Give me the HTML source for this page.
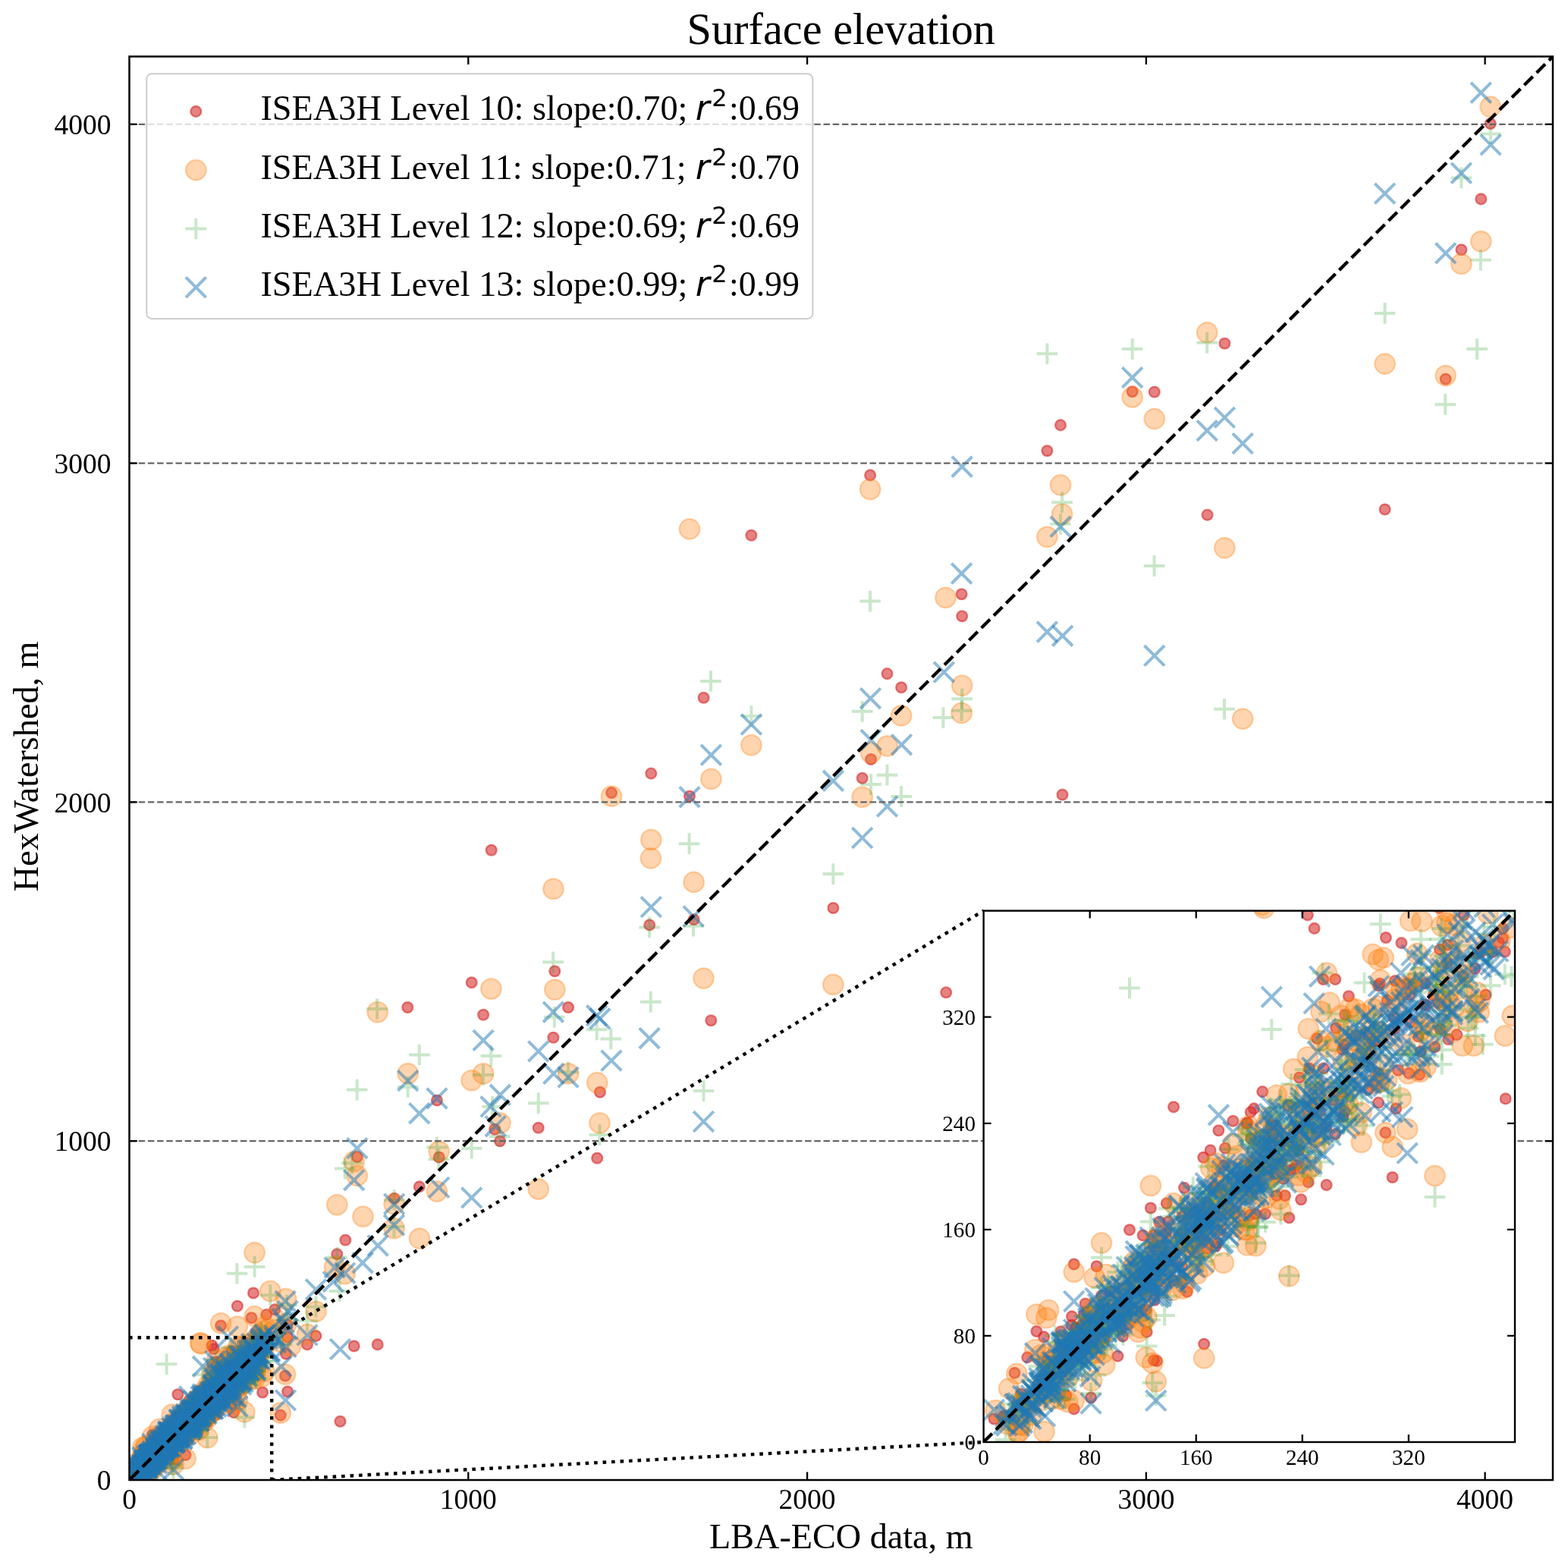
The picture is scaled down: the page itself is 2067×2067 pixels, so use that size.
<!DOCTYPE html>
<html><head><meta charset="utf-8"><title>Surface elevation</title>
<style>
html,body{margin:0;padding:0;background:#fff;overflow:hidden}
svg{display:block}
text{font-family:"Liberation Serif","Times New Roman",serif;fill:#000}
</style></head><body>
<svg width="2067" height="2067" viewBox="0 0 2067 2067" xmlns="http://www.w3.org/2000/svg">
<defs>
<clipPath id="cm"><rect x="170.5" y="74.5" width="1876.5" height="1876.5"/></clipPath>
<clipPath id="ci"><rect x="1296.6" y="1200.6" width="700.4" height="700.4"/></clipPath>
<circle id="mr" r="6.9" fill="#d62728" fill-opacity="0.58" stroke="#d62728" stroke-opacity="0.58" stroke-width="2.3"/>
<circle id="mo" r="13.3" fill="#ff7f0e" fill-opacity="0.33" stroke="#ff7f0e" stroke-opacity="0.33" stroke-width="2.3"/>
<path id="mg" d="M-13.85 0H13.85M0 -13.85V13.85" fill="none" stroke="#2ca02c" stroke-opacity="0.25" stroke-width="4"/>
<path id="mb" d="M-13.3 -13.3L13.3 13.3M-13.3 13.3L13.3 -13.3" fill="none" stroke="#1f77b4" stroke-opacity="0.5" stroke-width="4"/>
<marker id="kr" markerUnits="userSpaceOnUse" markerWidth="40" markerHeight="40" viewBox="-20 -20 40 40" overflow="visible"><use href="#mr"/></marker>
<marker id="ko" markerUnits="userSpaceOnUse" markerWidth="40" markerHeight="40" viewBox="-20 -20 40 40" overflow="visible"><use href="#mo"/></marker>
<marker id="kg" markerUnits="userSpaceOnUse" markerWidth="40" markerHeight="40" viewBox="-20 -20 40 40" overflow="visible"><use href="#mg"/></marker>
<marker id="kb" markerUnits="userSpaceOnUse" markerWidth="40" markerHeight="40" viewBox="-20 -20 40 40" overflow="visible"><use href="#mb"/></marker>
</defs>
<rect width="2067" height="2067" fill="#fff"/>
<text x="905.5" y="57.9" font-size="58.33">Surface elevation</text>
<g clip-path="url(#cm)">
<path d="M275.1 1859.1 194.3 1926.5 343.8 1782.9 236.9 1896.7 621.7 1295.2 291.1 1747.5 219 1907.3 378.9 1762.5 326.5 1783.8 1268.2 812.3 336.6 1786.7 856.2 1219.4 351.2 1733.1 253.3 1871.9 324 1812.2 251.8 1852.2 224.1 1881.5 331.8 1794.2 231.6 1888.6 295.7 1814.4 262 1874.3 251.3 1858 203.7 1915.1 242.6 1881.4 326.8 1815.5 258.9 1843.8 248.3 1865.8 272.9 1837.8 243.2 1872.8 213.5 1906.2 180.9 1927.8 334 1704.5 204.2 1908.2 177.7 1942.2 197.2 1919 240 1873.5 448.5 1873.8 206.3 1919.5 240.8 1886.3 1247.2 1308.3 284.7 1795.4 787.2 1526.7 201.5 1912.6 185.2 1922.5 293.3 1801 276.4 1844.9 265.2 1874.3 1398 560.4 177.1 1942.4 200.2 1908.7 578.7 1525.5 237.3 1892 303.3 1826.8 270.5 1856.6 470.8 1525 238.9 1900.4 229.7 1896.9 208.6 1908.4 291.8 1817.4 858.3 1019.6 313.6 1827 188.8 1931.7 552.8 1564.4 301.4 1816.5 306.3 1802.5 345.1 1781.5 261.4 1838.8 205.1 1910.6 267.4 1851.8 279.8 1863.6 259.7 1863 377 1784.8 659 1504.3 231.9 1880.5 280.1 1825.3 248.6 1885.2 990.4 705.7 216.2 1905 317.5 1819.6 257.1 1861.6 224.3 1899.7 243.5 1874.6 1188.1 906.2 313.7 1800.6 237.5 1885 259.3 1843.6 225.1 1901.6 260.3 1859.8 210.2 1901.7 537.3 1328 324 1785.3 239.3 1883.6 227.8 1923.5 243.9 1877 244.9 1883.1 1614.4 452.8 749.1 1328 1952.3 262.4 196.5 1913.8 1521.8 516.7 283.6 1839.8 1492.7 516.3 245.9 1870.4 200.9 1891.2 273.1 1850 216.2 1910.4 303.3 1836.8 213.1 1900.3 331.5 1737.2 269.1 1868.1 238 1865.5 228 1903.3 345.2 1778.3 291.4 1841.6 198.3 1935.4 305.7 1846.9 519.7 1579.9 729.4 1367.7 298.8 1813.6 243.9 1883.4 240 1882.3 232.7 1876.9 198.2 1920.4 223.7 1906.7 576 1450.5 1136.7 1025.8 277.3 1869.4 226.7 1872.3 292 1839.7 262.1 1862.8 248.2 1864.7 211.3 1916.1 200.9 1939.9 249.2 1884 305.8 1781.3 497.7 1772.4 308.5 1808.2 200.1 1911.7 268.4 1861 346.1 1835.5 731.3 1280.3 279.8 1841.2 323.5 1803.4 362.3 1726.3 229.6 1877 308.9 1795.9 260.2 1857.2 1905.7 499.7 232 1870.7 271.4 1862.4 202.6 1918.9 326.3 1789.9 263.1 1860.3 234.4 1838.3 285.8 1844.9 292.1 1807.2 276.7 1828.4 267.2 1844.3 308 1861.9 208.8 1909.3 288.8 1795.4 378.9 1746.5 180.5 1943.4 258.3 1863.1 181.8 1938.2 228.5 1884.7 250.9 1873.6 369.8 1865.6 1380.4 594.3 284.9 1825.3 216.8 1903.6 914.6 1212.2 254.9 1874.1 301.6 1816.4 300 1832.3 806.1 1045.1 927.6 919.8 208.5 1891.9 1400.5 1047.6 303.3 1797.5 709.7 1486.7 249.5 1846.2 174 1943.2 290.9 1833.3 245.7 1885.8 1098.4 1197 215.6 1922.1 231.7 1880.8 288.8 1847.4 199.7 1920.9 204.7 1904.5 647.7 1120.7 263.2 1863.4 1825.6 671.5 337.8 1786.2 444.3 1653.3 197.6 1926.9 276.6 1852.8 1169.5 888.1 303.8 1796.8 205.3 1907.3 311 1783.1 1964.7 163 200.3 1922.1 195.4 1926 316.8 1814.6 214.4 1907.2 250.1 1879.8 206.6 1936.1 267.3 1846.9 190.4 1929.7 329.7 1814 264.3 1833.1 341.8 1786.2 227.7 1881.4 230.6 1890.1 203.7 1911.5 318.7 1803.8 291.2 1818.9 273.7 1859.5 225.7 1896.5 216.8 1912.8 335.8 1791.8 315.1 1797 269.7 1849 244.6 1918 194.2 1924.1 250.4 1866.8 237.2 1875.4 260.3 1840 281.2 1837.2 219.6 1879.6 226.4 1898.5 254.4 1843 282.7 1815.3 1267.6 783.3 228.1 1885 1926.4 329.2 637.1 1337.7 199.6 1918 909 1049.6 319.4 1804.1 466.7 1774.5 309.9 1825.9 321.8 1800.8 242 1881.1 339.4 1800.6 405 1772.4 1148.1 1001 312.9 1721.7 652.2 1488.8 332 1773.7 231 1887.5 281.7 1778.2 241.5 1873.8 323.8 1771.3 190.8 1915.6 322.3 1818.2 260.7 1867.2 225.2 1906.5 288.2 1835.9 376 1813.8 217.3 1915.4 345.8 1786.1 234.1 1890.3 455.3 1634.7 302.1 1830.8 219.2 1911.3 314 1809.9 243.4 1881.8 188.3 1913.7 937.3 1345.3 225.4 1914 246.8 1852.9 260.1 1874.7 319.1 1796.8 237.1 1880.9 183.1 1934.8 211.9 1905.9 273.3 1875.5 244.4 1855.2 289 1811.7 223.8 1894.7 279.5 1773.7 191.9 1923.6 206.2 1915.6 268.8 1844.6 308.8 1812 1591.6 678.8 271.9 1868.1 312.8 1796.8 267.5 1848.7 234.2 1896.6 300.5 1819.8 790.9 1439.8 260.4 1848.9 379.1 1834.5 416.4 1761 228.8 1923.7 276 1857.9 317.1 1827.4 285.8 1864.5 1147.1 626.4 190.1 1933.6 200.6 1922.2 309.2 1838.8" fill="none" stroke="none" marker-start="url(#kr)" marker-mid="url(#kr)" marker-end="url(#kr)"/>
<path d="M990.4 982.3 335.1 1767 787.2 1427.3 262 1885 519.7 1587.2 282.7 1845 244.7 1875.1 266.4 1841.9 222.1 1897.3 729.5 1171.8 183.9 1937.5 291.9 1836.9 259.1 1884.7 223.3 1912.6 220.8 1905.6 303.9 1829.8 239.4 1883.6 266.4 1862.5 234.7 1884.9 576 1570.6 315.4 1796.5 444.3 1588.2 309.5 1804.4 308 1851.7 234.4 1870.7 245.5 1885.6 1614.4 722.3 286.2 1818 196.9 1925 183.7 1945.3 219.4 1909.2 295.7 1805.4 324.7 1810.3 210.2 1884 188.5 1937.6 335.6 1651.3 204.9 1916.1 279.8 1812 310.9 1835.3 283.2 1848.3 1148.1 992.7 857.9 1131.4 207.8 1895.7 210.3 1915.3 212.5 1906.6 239.6 1870.5 228.5 1930.6 302.6 1830.3 256 1875.2 284 1806.3 178.5 1944.9 228.2 1885.3 296.1 1844.5 268.4 1858.6 330.3 1789.4 187.8 1919.9 265.2 1862.8 312.3 1797.7 229.8 1881.1 195.7 1919.8 231.7 1891 240.7 1891.8 279 1860.2 369.9 1768.7 182 1947.8 1400.1 677.7 320.3 1816.3 324.5 1802.5 324.6 1777.4 304 1795.6 301.4 1805.3 274.3 1851.8 264.8 1771.4 196.1 1929.2 416.4 1728.9 207.6 1913.8 291.3 1812.2 637.1 1415.3 1398 639.4 192.4 1924 251.2 1890.7 327.1 1811.7 193.3 1936.5 311 1798.7 345.8 1814.4 342.7 1760.2 222.5 1914 230.4 1899.2 338.8 1767.2 318.4 1810.1 270.9 1848 1147.1 645 326.4 1776.4 191.6 1909.2 264.9 1857.7 211.2 1925.1 198.8 1937.5 235.3 1888.9 326.8 1799.7 318 1775.8 279.5 1821.5 328.9 1777 324.1 1788.8 295.7 1816.3 203.6 1917.8 273.1 1853.3 189.7 1921.8 347.5 1778 274.2 1846.8 196.3 1936.6 258.2 1879.5 1169.5 983.4 537.7 1415.3 265.2 1844.7 282.2 1844 194.1 1926.6 327.2 1803.2 233.6 1880.1 294.3 1826.5 248 1864.2 286.9 1803.2 259.4 1846.1 362.1 1753 305.7 1846.9 259.6 1844.7 264.6 1858.1 246.2 1874.9 227.9 1891.1 347.7 1754.6 208.1 1907.1 325 1792.8 284 1833 207.5 1905.8 305 1788.1 182.7 1945.2 190.5 1934.8 256.4 1865.7 282.1 1834.7 1136.7 1050.7 331.6 1817.7 243.4 1886 254.4 1850.7 250.9 1864.6 208.1 1921.1 259.3 1867.1 361.4 1737.6 249.3 1866.6 184.3 1936.6 369.8 1862.5 314 1775.7 337.2 1806.4 337.3 1802.7 313 1845.7 216.5 1900.9 269.7 1849.7 174.5 1940.4 290.7 1807.5 304 1813.3 277.9 1847.3 303.3 1788.8 186.6 1941.9 267 1861.2 243.5 1877.2 1246.5 787.9 309.4 1798.7 198.9 1929.3 226.7 1864.8 466.7 1531.3 348.4 1807.6 257.9 1866.9 225.4 1909 345.1 1763.4 336.4 1799.8 1926.4 347.9 259.1 1879.7 231.6 1887.3 240.8 1876.8 250.8 1872.6 927.5 1289.6 209.4 1908.4 263.7 1849.9 222.7 1890.8 198.2 1919.4 497.7 1334.2 291.5 1822.7 192.3 1906.6 283.8 1816 858.3 1107 276.9 1855.9 298.7 1814.7 201.4 1921.9 242.4 1894.4 297.5 1840.2 231.7 1895.3 319 1810.5 335.6 1804.1 294.1 1831.6 254.6 1878.6 553 1632.6 1268.2 903.7 212.6 1906.4 316.6 1794.6 278.7 1833.6 206.6 1914.1 317.4 1812.8 297.6 1850.2 211.7 1894.6 270.4 1872.9 202 1918.3 1964.7 140.8 234 1899.9 1380.4 707.8 1591.2 438.4 263 1857.2 261.6 1860.1 225.2 1922.5 268.8 1859.4 276.4 1861.3 191.9 1921.5 248.6 1857.2 207.2 1915 621.7 1424.2 221.3 1890.2 259.4 1876.4 313.3 1827.1 303.3 1804.4 470.8 1549.9 228.2 1883 1521.8 552.1 228.3 1891.8 228 1885.5 254.3 1864.6 224.1 1910.7 269.3 1857.2 1952.3 318.3 301.4 1786.9 195.8 1926.4 244.9 1891.9 356.3 1702 324 1800.3 240.8 1885.7 293.1 1837.4 317.3 1826.5 195.6 1929.2 178.8 1943.7 301 1812.8 267.4 1850.8 227.6 1888 247 1858.8 188.3 1908 283.4 1850.3 335.6 1735.1 200.9 1893.8 238.5 1882.5 806.1 1049.6 790.5 1480.5 243.2 1872.1 217.7 1901.3 246.2 1880.9 280 1848.9 276.3 1840.4 328.7 1805.1 220.2 1892.9 297.3 1821.8 327.5 1785.5 208.9 1915.3 248.2 1880.9 246.5 1876.1 659.4 1480.5 299.8 1821.3 292.5 1814.5 1905.7 495.1 256 1854.7 343.7 1758.6 308.7 1802.1 322.3 1861.4 206.9 1930.4 303.3 1812.9 267.6 1857.5 1638.2 947.6 578.7 1517.8 348.7 1749.3 248.9 1877 280.9 1858.3 1098.3 1297.9 229.1 1888.3 206.8 1908.9 304.9 1824.2 270 1869.3 383.3 1774.5 251.7 1865.8 1267.6 939.9 223.8 1907.1 265.3 1869 218.3 1905.2 285.5 1832.2 259.9 1875.4 244.6 1922.8 1188.1 943.4 316.4 1786.6 277.2 1839.7 190.9 1947.5 441.2 1669.9 1492.7 523.5 405 1758.9 289.6 1836.9 264.2 1770.3 185.8 1938.1 231.3 1892.9 238.2 1897.6 273.3 1895.2 312.1 1817.3 253.3 1871.2 262.8 1853.1 237.5 1899.3 221.9 1898.3 709.7 1567.5 209.9 1909.6 331.8 1793.9 749.1 1415.3 1825.6 479.6 263 1871.9 454.7 1679.2 202.9 1916.9 285.9 1793.2 250.5 1858.5 335.4 1817.7 319.3 1824.8 377.6 1745.5 261.2 1860.5 274.8 1825.5 192.2 1926.3 340.1 1773.3 210.6 1921.1 647.4 1303.5 206.8 1921 195.6 1925.8 377 1712.3 200.9 1937 182.7 1941.2 233.8 1886.8 181.7 1928 306.2 1829.1 197.9 1917.1 249.3 1873.2 227.5 1895.2 301.9 1829.4 273.1 1833.9 293.8 1804.8 217.3 1900.7 376 1811.7 296.5 1816.3 207 1917.2 264 1849.2 244.9 1875.1 182.2 1947.8 295.6 1822.1 241.5 1886.6 288.6 1816.4 297.3 1807.1 227.3 1924.4 291.1 1744.4 204.9 1918.2 256.5 1859.1 222 1896.8 937.4 1026.9 344.2 1782.3 269.4 1860.4 217.8 1898.1 305.7 1815.5 312.9 1748.6 914.6 1162.9 323.8 1795.6 276.4 1847 331.7 1798.5 326.3 1772.4 281.1 1827.6 478.5 1603.7 333.3 1809.4 247.2 1878.2 519.5 1619.2 254.9 1872 191.8 1933.8 330.9 1782.6 277.1 1863.6 179 1933 269.1 1834.3 731.3 1304.6 213.7 1905.2 238.7 1880.8 258.9 1863.2 909 697.4 338.9 1783.7" fill="none" stroke="none" marker-start="url(#ko)" marker-mid="url(#ko)" marker-end="url(#ko)"/>
<path d="M267.5 1858.4 324.8 1799.5 343.3 1762 205.1 1918.2 261.4 1851 197.6 1931.3 189.3 1933.6 447.4 1702 211 1919.7 203.7 1919.8 217 1909.6 1243.4 946.1 1521.6 746.1 212.7 1908.3 290.9 1825.3 323 1791 306.6 1832.9 324.8 1809.8 240.5 1883 200.8 1913.6 181.9 1938.5 247.3 1888.1 195.1 1933.4 194.5 1915.1 268.9 1840.7 578.3 1528.2 227 1891.6 291.8 1809.1 197.8 1936.6 216.2 1910.4 729.2 1268.3 185.7 1944.2 247.1 1871 323.4 1805.9 203.2 1925.5 315.3 1793.6 254.1 1866.9 908.6 1112.2 259.7 1878.1 342.8 1768 210.9 1911.6 497.1 1330 208.1 1919.1 301.6 1815.5 275.5 1845.2 749.1 1413.3 208.4 1908.1 271.5 1849.3 334.7 1787.8 259 1878.5 284.9 1848.7 317.9 1791.5 205.9 1912.5 275.4 1851.2 210.2 1888.9 276.3 1852.4 292.5 1832 200.7 1921.7 195.6 1917.7 317.8 1813.4 324.2 1814 199.2 1917.6 263.4 1849.4 260.7 1857 188.1 1935.1 312.6 1820.8 243.4 1867.4 334.7 1808.1 294.8 1835.1 244 1867.3 470.6 1436.6 225.2 1899.5 282.3 1838.5 237.7 1872.7 709.7 1454.2 332.6 1797.9 227.3 1931.1 290.7 1829.1 263.7 1866.5 185.1 1937.8 331.8 1796.1 210.7 1906.1 314.2 1819.4 304 1826 658.4 1498.1 284.9 1835.8 208.3 1914.3 265.8 1850 364.1 1756.9 278.3 1849.3 240 1873.1 271.1 1857.6 186.9 1930.4 267.4 1812.2 248 1868.6 322.3 1868.6 231.6 1885.6 282.3 1830.2 266.6 1852.9 225.6 1896.9 212.4 1898.3 273.9 1830.6 260 1858.2 313.5 1820.6 247.4 1877.7 647.4 1392.1 298.4 1821.9 278.6 1831.2 1169.5 1021.7 247.9 1871.7 198.2 1924.8 295.7 1840.5 286.1 1819.1 324.6 1778.2 241.5 1883.8 243.8 1880.7 464 1533.3 291.8 1842.9 338.4 1817.2 299.3 1820.2 326.1 1789.9 288.9 1839.2 312.4 1678.8 202.7 1915.6 187.8 1937.3 1614 934.7 220.6 1894.6 224.9 1898.9 244.3 1890.1 245.7 1872.6 344.6 1756.6 280.9 1845.4 260.7 1866.4 317.6 1781.9 220 1907.7 319.1 1818.6 223.2 1902.4 223.8 1896.1 216.7 1891.8 292.5 1835.9 235.4 1883.7 649.1 1458.8 283.3 1816 191.9 1926.1 215.6 1893.8 305.1 1811 257.3 1867.7 248.6 1866 1947.1 460.1 221.8 1905.6 213.6 1914 330.3 1784 231.4 1908.4 262 1884 444.3 1657.5 225.4 1918.7 266.4 1846.4 320.2 1821.2 228.8 1883.9 204 1913.3 338.8 1780 262.6 1878.8 275.5 1836.5 254.9 1877.5 336 1789 322.9 1794.8 210.1 1914.5 228.6 1894.7 279.3 1844 219.6 1798.3 265.1 1860.1 252.6 1865.4 275.9 1851.9 194.3 1924.9 185.5 1934.9 252.7 1885.1 205.6 1908.9 378.1 1720.6 284.4 1835.6 298.4 1817.8 454.7 1540.6 204.4 1925 335.8 1807.9 1188.1 1050 267.1 1838.7 211.3 1913.1 301.7 1807.5 212.4 1915 990.4 944 1951.9 342.7 335.6 1669.9 276.9 1853.1 200.3 1917.4 333.4 1805.6 226.6 1909.9 271 1856.2 245.2 1877.2 192.1 1928.5 228.6 1899.8 228.5 1935.4 204.3 1908.6 269.9 1855.9 273.3 1852.8 274.2 1854.1 272.8 1861.8 223.3 1890.7 335.9 1814.2 213.7 1907.8 270.5 1874.3 416.4 1722.7 1400.1 662.2 333 1772.5 283 1827.1 259.3 1850.8 378.4 1739.2 786.7 1357.3 273.3 1895 191.4 1937.1 240.7 1889 238.6 1876 317.5 1787 208.3 1928.5 537.7 1432.9 267.3 1852.4 290.5 1830.1 914.1 1220.7 283.6 1856.8 267.5 1864.2 292.5 1822.7 271.3 1840 209.2 1905.3 315.6 1820.7 327.1 1807.4 302 1809.6 297.8 1834.2 259.4 1864.7 275.3 1836 215.2 1903 222.2 1898.1 342.4 1777.7 208.3 1912.7 519.7 1582 1965.1 176.4 273.5 1838.2 1136.7 937.8 218.4 1908.1 1591.2 451.8 323.2 1811.4 1825.6 412.9 178 1950.2 857.8 1320.7 348.8 1772.6 252.9 1852.5 269.1 1843.7 233.1 1893.4 621.7 1513.7 209 1917.5 272.7 1851.8 196.7 1926.9 240.1 1890.9 262.9 1878.6 204.4 1924.8 209.7 1905.2 236.8 1872 356.3 1707.2 310.4 1834.1 197.3 1914.9 244 1870.3 218.2 1903.3 257.6 1858.9 178.6 1943.6 201 1916.6 193.1 1928.8 856.1 1222.4 180.7 1938.1 210.1 1899 279 1828.2 205.6 1913.6 271.2 1850 217.9 1896.2 341.4 1787 307 1820.6 252 1875.6 226.7 1876.9 235.9 1879.2 1147.1 792.6 341 1797.5 244.7 1869.6 205.8 1909.4 297.9 1822.1 199.1 1920.5 182.6 1937.9 198.1 1920 201.7 1916.4 233.8 1891.6 331 1797.6 292.4 1842.7 325.1 1784.6 329.3 1792.7 209.6 1908.9 323 1814.2 340.6 1786.7 237.6 1896.1 336.2 1801 296.3 1807.9 331.8 1777.9 199.6 1925.4 263.8 1856.9 927.5 1438.1 226.5 1901.2 245.3 1878.7 324.6 1823.9 289.7 1831.7 280.7 1853.3 263 1859.7 315.6 1795.8 225.8 1884.5 250.9 1866 264.5 1849.2 1098.4 1152.1 231.1 1889.1 198.9 1924.3 345.8 1793.7 211.9 1918.4 291.6 1843.8 236 1883.9 215.6 1909.8 201.9 1923.1 206.6 1918 249.1 1873.7 257.7 1865.4 200.2 1922.8 293.8 1842.2 304 1776.8 552.8 1390.5 1268.2 921.3 259.7 1849.7 298.3 1844.5 201.5 1914.2 246.9 1867.1 219.9 1894.5 205.5 1921.3 805.4 1369.4 282 1830.7 322.8 1799.3 293.4 1832.7 253.3 1869.5 241.9 1877.3 194.2 1924.4 254.1 1873.2 318.1 1813.4 301.5 1811.9 273.4 1842.9 270.1 1838.3 225.5 1898.4 219.6 1907.1 519.5 1617.1 287.1 1841.1 263.3 1864.1 203.4 1913.8 293.1 1823.6 274.6 1837.1 280.7 1861.4 246.1 1858.3 937 897.9 261.5 1852 291.9 1831.6 324 1781.9 227.2 1891.8 241 1865.3 292.8 1809.5 257.6 1847.8 206.2 1910.5 206.6 1934.6 279.2 1846.8 265.2 1865.6 197 1925.3 243.1 1888.7 333.5 1811.8 250.9 1870.9 238.8 1883.6 287.4 1833.1 327.6 1804.6 184.3 1940.2 278 1858.7 298.6 1796.5 286.6 1807 281.5 1844 195.3 1917.1 217.4 1915 219.3 1899.7 284.5 1793.2 192.6 1925.6 254.2 1861.7 234.9 1883.6 301 1818.9 208.3 1913.2 344.3 1767.1 576 1512.6 637.1 1417 210.4 1907.3 333.5 1794.5 278.7 1825.7 290.1 1815.8 270.2 1844.5 234.4 1875.1 214.7 1913.6 261.8 1861.2 263.8 1856.8 195.8 1933.3 307.9 1834.7 258.8 1869.1 302.3 1811.8 195.5 1936.1 325.5 1787.4 278.9 1846.3 230.5 1888.3 265.3 1877 185.5 1936.1 291 1835.3 238.3 1875.4 295.8 1812.6 180.4 1941.3 223 1888.3 201.3 1930.1 1380.4 466.3 236.8 1879.6 223.8 1890.5 790.5 1496.1 179.1 1942.4 730.8 1340.8 277.7 1838.3 222.3 1888.7 318.1 1804.6 282.1 1854.1 212.4 1903.2 285.3 1850.3 236 1895.8 316 1799.8 209.6 1903.4 258.9 1845.7 252.8 1860.7 189.1 1925.5 340.3 1786.1 1492.7 460.1 1926.4 234.4 209.5 1908.7 232.8 1872.5 265.1 1847.1 322.8 1798 272 1859.2 207 1920.7 326.2 1810.7 193.9 1928.1 270.5 1835.9 1148.1 1034.1 1905.3 533.2 259.6 1859.1 266.7 1841.4 232.3 1902 348.1 1794.4 322.1 1796.8 324.7 1819.1 212.2 1909.9 325 1797.4 286 1843.5 229.9 1897.1 269.5 1865.1 371.4 1772.1 202.4 1911.3 208.1 1911 260.3 1847.1 238.7 1882.7 238.5 1885.6 179.2 1944.1 405 1741.3 1398 690.8 237.7 1881.5 229.5 1891.2 212.9 1911.4 281.2 1837.2 239.1 1880.9 342.9 1767.9 267.1 1849.8 244.6 1877.4 1267.6 936.8 252 1868.9 224.2 1891.5 323.5 1792.5 213 1898.9 269.9 1853.6 226.9 1888.2 202.8 1914.1 290.2 1830.2 219.2 1900 261.3 1866.2 275.9 1844 334 1787.9 199.9 1926.7 265 1858.2 289.9 1846.5 294.5 1837.6 215 1914.2 327.4 1799.8" fill="none" stroke="none" marker-start="url(#kg)" marker-mid="url(#kg)" marker-end="url(#kg)"/>
<path d="M248.6 1878.6 271.5 1861.7 233.1 1878.4 256 1866.5 232.6 1883.8 223.8 1894.2 278.5 1838.3 213.2 1908.1 240.2 1873.8 226.6 1893.8 200.5 1925.8 254.3 1859.4 228.5 1890.2 239.2 1874.4 186.4 1939.1 316.8 1819.4 233.3 1890.4 858.3 1195.6 241.1 1877.7 272.2 1840.1 749.1 1420.1 340.4 1784.2 332.3 1778.5 709.7 1385.9 280.9 1857.4 268.2 1842.9 806 1398.1 245.2 1863.9 218.6 1896.4 263 1857.8 927.5 1478.5 266.7 1840.6 317 1799.8 303.3 1797.7 310.7 1818.5 230.5 1882.2 308.6 1809.4 275.4 1845.3 197.6 1928.5 214 1907.2 198 1919.4 281.8 1827.1 238.1 1885.7 195.8 1929.1 205.3 1911.9 265.1 1856.6 213.2 1905.2 189.2 1929.6 255.4 1873.1 378.7 1752.2 246.5 1873.7 270.2 1856.2 307.7 1812.8 252.9 1881.5 338.7 1781.8 207.1 1914.4 284.9 1854.3 269.6 1839.2 212.4 1906.3 233.7 1886.5 280.4 1845.3 248.8 1873.1 240.4 1866.8 224.3 1898.1 215.9 1911.4 304 1799.4 261.5 1862.5 261.6 1861.3 315.9 1821.1 268.2 1845.2 320.3 1821.5 441.2 1670.9 552.8 1467.7 197.4 1919.9 203.8 1918.5 254 1857.4 205.7 1910.2 242.2 1873.3 376.4 1845.9 318.4 1811.7 289.7 1839.2 296.3 1823.3 238.8 1876.7 290.4 1836.6 281.9 1834.3 253.6 1879.6 621.7 1578.9 1136.7 1104.5 268.5 1858 201 1916.5 578.7 1565.4 197.7 1922.5 282.2 1840.5 324.7 1791.8 253.9 1877.5 470.8 1513.7 260.7 1857.4 336 1779.5 322.5 1808.2 263.8 1854.7 184.7 1940.6 314 1807.1 208 1916 214.6 1899.5 296 1814.5 196.6 1917.5 202.6 1927 245.8 1868.8 199.2 1916.4 181.6 1939.3 990.4 955 203.2 1917.7 1965.1 190.9 254.3 1861.4 282.2 1827 236.3 1892.4 243.9 1875.5 241.7 1882.1 246.8 1877.5 203.9 1914.1 341 1790.4 258.6 1860.4 221.2 1905.3 317.5 1820.8 299.3 1821.8 222.9 1888.3 287 1843.4 272.7 1850.4 191.2 1942.3 653.2 1484.7 248.3 1877.1 297.9 1823.6 188.2 1939.1 245.7 1865.5 327.2 1790.1 193.6 1934.3 283.6 1794.4 311.4 1841.7 191.6 1930.7 283.9 1843.8 292.1 1819.1 209.3 1907.5 274.9 1853.3 1614.4 550.4 192.5 1931.5 416.4 1699.9 224.5 1907.5 296.6 1812.1 218.6 1892.1 263.2 1867.8 1148.1 975.5 276.6 1850.1 292.4 1829.1 242.8 1880.7 292.4 1845.5 311.2 1808.3 576 1448 184.8 1937 186.9 1933.8 230.5 1900.1 241.8 1886.5 185.1 1940.7 322.9 1810.5 253.4 1863.3 229.7 1884 261.4 1873.3 281.3 1836.3 198 1925.7 181.4 1938.1 265.3 1859.4 211.7 1907.8 249.3 1872.8 196.7 1919.1 226.6 1893 268.5 1846.3 235.7 1881 208.1 1902.6 267.8 1848.8 193.6 1924 193.3 1930.5 220.6 1894.9 281.8 1829.2 1591.2 567.6 241.8 1875.1 188.6 1933.1 203.1 1916.8 203.5 1919.4 211.8 1913.9 311.9 1799.5 211.8 1901.6 205.9 1923.9 214 1910.3 333.9 1802 225.5 1898.7 196 1930.5 216.9 1910.4 204.5 1919.6 330.4 1779.5 361.5 1760.7 227.6 1901.8 216.8 1898.5 331.8 1771.7 454.7 1678.2 222.8 1906.3 302.8 1821.3 326.6 1787.7 264.1 1865.1 200.9 1921.9 257.7 1861 220.7 1905.8 258 1860.1 1400.7 838.2 244.3 1875.1 276.3 1844.7 231.7 1882.1 217.4 1909.3 265.5 1847.7 261.7 1863.8 251.1 1870.6 207 1918.2 328.3 1806 288.7 1842.2 205.5 1915.4 318.7 1797.2 914.2 1208 229.2 1902.3 277.4 1835.3 321 1805 313.5 1806 277.2 1847 239.6 1897.1 647 1458.8 317.1 1805.7 1825.6 255.1 292.2 1831.7 293.8 1828.4 344.3 1764.9 1926.4 228.2 284.2 1839.2 269.4 1851.6 182.1 1937.9 790.8 1342.8 217.8 1902.8 182.6 1945.6 211.2 1910.3 235.3 1891.6 187 1931.4 327 1791.2 370.8 1801.4 311.1 1803 274.9 1839.6 191.2 1934.5 221.8 1900.7 248.1 1881 277.1 1846 307.5 1803.1 260.1 1854.2 226.7 1891.1 448.5 1778.6 348.7 1776.6 318.7 1796.4 301.8 1816.9 250.5 1884.3 187.3 1934 320.4 1796.2 216.1 1904 1267.6 756 337.3 1787.4 206.6 1938 265.2 1851.8 466.7 1555.7 208.8 1911.2 296.8 1831 296.1 1831 324.9 1814.1 349.4 1759.1 225.9 1901.3 240.2 1896.3 202.5 1923.1 228.1 1890.4 202 1917.8 213.2 1901.3 217.1 1905.2 352.5 1764.7 299.1 1822.2 314.6 1805.1 276.9 1846 262.6 1865.6 276.9 1853.1 283.3 1834.5 326.6 1805.1 519.5 1615 289.3 1826.2 244.8 1874 245.5 1866 310.4 1821.4 230.8 1879.1 272.2 1863.7 308 1840 307.3 1806.6 281.5 1839.6 213.1 1917.7 200.2 1916.7 206.6 1909.2 314.5 1787.3 197.3 1925.4 240.2 1870 234.3 1888.5 313 1853.8 308.1 1813.5 183.2 1938.7 226.3 1898.4 265.3 1850.6 355.4 1781.6 319.9 1792.1 252.8 1878.6 478.1 1664.7 200.6 1921.6 264.7 1863.7 659.4 1443.3 310.4 1808 261.6 1863.6 262.5 1849.1 288.4 1844 263.8 1857.6 337.6 1787.7 303.6 1830.6 1638.2 584.6 226.1 1895.9 1147.5 920.7 225.2 1888 299.2 1807.5 242 1874.1 318.4 1805.7 193 1931.5 303.4 1819.2 258.2 1864.7 194.1 1932.8 214.3 1910.3 298 1832.1 243.7 1872.3 268.2 1852.1 279.2 1834.1 267.9 1844.8 288.3 1840.1 265.3 1854.2 308.6 1810.2 243.9 1883.6 278.5 1843.2 255.2 1868 290.1 1831.4 243.8 1874 191.2 1932.1 228.9 1892 215 1907.6 259.6 1866.2 292 1813.4 255.3 1871.1 300.4 1762 178.2 1945.4 252.3 1881.1 311.5 1808.4 208.3 1913.4 1380.4 833 405 1760 254.2 1867.8 289.1 1823 280.2 1834.9 333.4 1794.1 283 1832 185.9 1942.6 257.8 1862.5 322.8 1794.8 300.4 1824.4 200.8 1913.2 194.2 1924.4 201.4 1920.8 253.5 1860.5 294.8 1816.4 281.1 1839.5 296 1816.3 293.6 1844 296.8 1827.8 937.4 995.2 262.2 1872.7 244.9 1876.5 205.7 1909.4 189.4 1925.4 221.3 1900.7 195 1925.6 355.4 1780.8 786.7 1338.8 341.7 1776.9 214 1902.7 243.4 1868 191.5 1933 191.5 1926.6 207.7 1918.1 332.7 1788.5 310.9 1814.5 265.9 1859.1 223.3 1888 221.6 1895.9 206.4 1929 266.3 1853.7 218.6 1905.2 301 1810.7 324.6 1806.4 210.4 1916.1 288.5 1839.4 241.6 1892.3 271.8 1848.1 233.3 1890.3 177.3 1944.9 221.2 1892.2 252.6 1873.9 1188.5 981.7 212.3 1908.4 202.4 1920.2 244.4 1880.4 186.6 1933.4 200.3 1919.6 379.1 1728.5 228.3 1891.9 203.2 1923.6 209 1904.6 226.4 1897.3 316.8 1810.9 196.8 1923.3 337.4 1784.5 187.7 1939 179.3 1941.9 225.5 1896.9 337.8 1791.2 277.1 1839.2 226.3 1896.5 235.5 1893.2 290 1837.8 328.2 1807.2 200.5 1922.5 230.5 1895.8 209.4 1912.5 183.5 1944.5 251.7 1857.6 257.3 1862.3 186.6 1938.1 203.2 1923.2 326.5 1780.3 1244.4 886.1 293.4 1814.5 245.1 1882.2 277.1 1846 223.3 1891.8 190.3 1926.6 197.7 1922.7 237.9 1880.6 291 1829.6 246.9 1875.6 201.1 1914.8 329.9 1794.8 216.6 1898.6 174 1940.1 300.4 1813.1 250.7 1859.8 305.7 1818.7 439.2 1689.6 194.2 1936.1 318.5 1787.2 207.3 1911.2 344.4 1769.3 215.7 1910.1 217.8 1901.6 298.7 1841.2 219.9 1906.2 186.5 1935.4 271.6 1846.2 637.1 1371.4 342.1 1792 183.7 1935.5 281.1 1841.1 217 1911.1 278.6 1842.2 246.2 1883.5 1169.5 1063.1 228.5 1937 317.8 1825.1 284.8 1846.6 182.2 1941.4 203.5 1921.6 1268.2 615.2 201.1 1921.9 193.7 1919.3 305 1831.3 198 1930.6 243 1876.6 193.4 1929.7 202 1918.3 189.5 1930.9 201.2 1917.2 305.6 1827.8 317.5 1788.9 263.4 1851.9 217.4 1894.6 225.2 1891.1 342.6 1766.8 729.8 1415.3 498.2 1642 256 1864.6 288.2 1839.5 265.4 1856 222.1 1901 256.1 1867.6 261.8 1864.7 338.2 1785.1 249.5 1841 239.3 1878.5 249.7 1874.7 209.8 1905.9 240.6 1887.8 345 1763.4 247.3 1873.4 328 1806.3 301.7 1810.3 228.6 1891.6 205.2 1923.4 204.2 1916.9 229.2 1888.5 240.9 1872.1 239.2 1880.3 309.6 1809 1398 694.3 237 1887.5 308.7 1823.9 277.2 1856.3 729.4 1334.2 253.8 1875.1 207.3 1916.1 286.4 1833.2 197.4 1917.6 214.3 1913.9 196.9 1917.8 352.4 1781.1 221 1908.8 299.6 1830.1 320.2 1804.1 312.7 1797.5 234 1894.2 374.3 1743.4 300.8 1830.4 376.2 1715.1 267.2 1837.9 307.2 1808.2 209.6 1910.9 234.7 1895.9 216.9 1901.9 282.5 1846 336.8 1806.6 313.1 1811.1 221.1 1903.3 283.2 1841.4 289.7 1828.7 245.4 1879.5 278.5 1843.9 340.5 1783.5 294.4 1830.1 211.2 1899.1 319.2 1817.6 199.3 1926.5 256.9 1859.3 190.4 1937.4 281.6 1803.4 221.7 1886.8 251.1 1883.8 338.9 1789.4 225.5 1890.3 236.1 1892.3 227.1 1898.4 285.7 1812 272.5 1853.3 229.7 1888.5 331.3 1775.1 287.2 1847.8 229.2 1899.1 326.3 1801.5 252.5 1867.3 197.6 1926.7 343.5 1785.9 222.4 1906.4 537.7 1424.6 213.6 1911.7 205.1 1915.1 226.9 1892.8 240.9 1890.6 298.3 1828.1 198.5 1917 1521.8 864.3 232.4 1878.6 200.9 1903.7 234.6 1885.1 228.9 1888.9 267.7 1859.4 212.3 1908.7 519.7 1587.2 232.7 1888.7 325.7 1797.7 333.2 1796.8 259.6 1860.2 229.1 1895.4 219.5 1903.6 267.7 1851.7 237.7 1882 279 1851.2 273.7 1849 269.5 1857.4 235.1 1897.5 247.1 1866.4 191.6 1929.4 180.9 1938.3 1952.3 122.2 216.1 1903.6 189.1 1930.9 297.7 1814.2 277.2 1836.9 236.3 1871.4 189.9 1932 196.8 1917.3 303.9 1813.9 243.9 1875.7 230.6 1894.3 230.3 1901.2 363.5 1769.6 200.4 1920.5 303.8 1826.4 240.2 1879.8 252.9 1869.6 282.1 1852.3 187.8 1934.6 275 1842.4 274.4 1855.1 304 1839.8 1492.7 497.6 197.9 1920.2 236.3 1871.7 302.9 1815.5 301.6 1814.1 265.2 1841.3 221.8 1900.2 202.3 1919.3 198.9 1920.4 312.5 1802.1 186.4 1943.2 254.4 1846.7 190.8 1926.1 283.5 1846.1 233.9 1886.6 348.4 1760.7 246.3 1876.7 226.5 1882.2 296.9 1833.5 335.8 1805.3 251.9 1862.2 255.6 1872.4 258.6 1867.7 214 1898.3 281 1825.1 221.6 1888.5 268 1854 214.8 1912.1 208 1911.5 257.3 1863.4 207.7 1921.7 228.9 1886.1 293.7 1821.9 187.8 1921.1 282.9 1819.7 310.9 1793.2 270.4 1857.9 214.8 1910.9 179.3 1942.4 244.4 1890.5 266.2 1851.3 222.6 1893.7 283.8 1847.7 224.1 1893.5 211.5 1907.5 301 1824.7 294.7 1815.3 1905.7 333.8 371.8 1738.6 218.3 1907.4 362.4 1764.2 206 1916.5 178 1942.5 305.1 1812.6 330.7 1789.3 230.1 1902 339 1771 198.9 1917.1 856.1 1368.7 234.9 1889.8 284.5 1846.8 228.6 1886.2 248.2 1865.7 299 1823.8 303.3 1806.3 237.7 1878.2 250.3 1865 247.1 1867.5 198.1 1921.1 267.4 1801.3 206.5 1917.8 191.4 1931.7 193.6 1933.2 219.2 1902.7 298.6 1808 233.4 1891.1 245.1 1877.6 205.7 1916 284.7 1843.4 285.6 1836.9 348.4 1775.6 297.7 1823.4 280.1 1857.4 331.8 1786.9 266.6 1851.2 209.7 1906.9 222.4 1897.3 226.1 1898 260 1853 221.1 1901.8 237.7 1893.7 245 1881.4 1098.4 1029.3 909 1050.7 264.9 1865 219.5 1905.7 261.7 1868.1 198.5 1920.5 245.4 1875.7 192.8 1934 256.4 1863 224.4 1894 184.7 1935.6 328.9 1798.2 287.4 1830.8 200.6 1921.2 263 1847.3 261.9 1863.1 232.3 1895.7 195.3 1925.5 220.9 1898.2 328.4 1785.6 308.4 1821.3 193 1929.9 377 1775.5 199.5 1925.7 273.2 1848 190.3 1934.1" fill="none" stroke="none" marker-start="url(#kb)" marker-mid="url(#kb)" marker-end="url(#kb)"/>
<path d="M170.5 1504.2H2047M170.5 1057.4H2047M170.5 610.6H2047M170.5 163.9H2047" stroke="#666" stroke-width="2.3" stroke-dasharray="8.5 3.7" fill="none"/>
<path d="M170.5 1763.3H358.2" stroke="#000" stroke-width="4.4" stroke-dasharray="4.6 6.9" stroke-dashoffset="0.5" fill="none"/>
<path d="M358.2 1951V1763.3" stroke="#000" stroke-width="4.4" stroke-dasharray="4.6 6.9" stroke-dashoffset="1.1" fill="none"/>
<path d="M358.2 1763.3L1296.6 1200.6" stroke="#000" stroke-width="4.4" stroke-dasharray="4.6 6.9" fill="none"/>
<path d="M358.2 1951L1296.6 1901" stroke="#000" stroke-width="4.4" stroke-dasharray="4.6 6.9" fill="none"/>
<path d="M170.5 1951L2047 74.5" stroke="#000" stroke-width="4.3" stroke-dasharray="16 7" stroke-dashoffset="-1.5" fill="none"/>
</g>
<path d="M617.3 1951v-10.4M617.3 74.5v10.4M170.5 1504.2h10.4M2047 1504.2h-10.4M1064.1 1951v-10.4M1064.1 74.5v10.4M170.5 1057.4h10.4M2047 1057.4h-10.4M1510.9 1951v-10.4M1510.9 74.5v10.4M170.5 610.6h10.4M2047 610.6h-10.4M1957.6 1951v-10.4M1957.6 74.5v10.4M170.5 163.9h10.4M2047 163.9h-10.4" stroke="#000" stroke-width="2.3" fill="none"/>
<rect x="170.5" y="74.5" width="1876.5" height="1876.5" fill="none" stroke="#000" stroke-width="2.5"/>
<g font-size="37.5"><text x="170.5" y="1988.6" text-anchor="middle">0</text><text x="617.3" y="1988.6" text-anchor="middle">1000</text><text x="1064.1" y="1988.6" text-anchor="middle">2000</text><text x="1510.9" y="1988.6" text-anchor="middle">3000</text><text x="1957.6" y="1988.6" text-anchor="middle">4000</text><text x="146.5" y="1964.2" text-anchor="end">0</text><text x="146.5" y="1517.4" text-anchor="end">1000</text><text x="146.5" y="1070.6" text-anchor="end">2000</text><text x="146.5" y="623.8" text-anchor="end">3000</text><text x="146.5" y="177.1" text-anchor="end">4000</text></g>
<text x="935" y="2040.9" font-size="46.2">LBA-ECO data, m</text>
<text transform="translate(49.5 1175.2) rotate(-90)" font-size="46.2">HexWatershed, m</text>
<rect x="193.3" y="97.3" width="878.1" height="322.9" rx="7" ry="7" fill="#fff" fill-opacity="0.8" stroke="#ccc" stroke-width="2"/>
<use href="#mr" x="258.3" y="146.9"/>
<text x="343.4" y="158.3" font-size="46.29">ISEA3H Level 10: slope:0.70;</text>
<text x="916.8" y="158.3" style="font-family:DejaVu Sans,sans-serif;font-style:italic;font-size:45.83px">r</text>
<text x="938.2" y="140.3" style="font-family:DejaVu Sans,sans-serif;font-size:32.08px">2</text>
<text x="961" y="158.3" font-size="45.83">:0.69</text>
<use href="#mo" x="258.3" y="224.2"/>
<text x="343.4" y="235.6" font-size="46.29">ISEA3H Level 11: slope:0.71;</text>
<text x="916.8" y="235.6" style="font-family:DejaVu Sans,sans-serif;font-style:italic;font-size:45.83px">r</text>
<text x="938.2" y="217.6" style="font-family:DejaVu Sans,sans-serif;font-size:32.08px">2</text>
<text x="961" y="235.6" font-size="45.83">:0.70</text>
<use href="#mg" x="258.3" y="301.5"/>
<text x="343.4" y="312.9" font-size="46.29">ISEA3H Level 12: slope:0.69;</text>
<text x="916.8" y="312.9" style="font-family:DejaVu Sans,sans-serif;font-style:italic;font-size:45.83px">r</text>
<text x="938.2" y="294.9" style="font-family:DejaVu Sans,sans-serif;font-size:32.08px">2</text>
<text x="961" y="312.9" font-size="45.83">:0.69</text>
<use href="#mb" x="258.3" y="378.8"/>
<text x="343.4" y="390.2" font-size="46.29">ISEA3H Level 13: slope:0.99;</text>
<text x="916.8" y="390.2" style="font-family:DejaVu Sans,sans-serif;font-style:italic;font-size:45.83px">r</text>
<text x="938.2" y="372.2" style="font-family:DejaVu Sans,sans-serif;font-size:32.08px">2</text>
<text x="961" y="390.2" font-size="45.83">:0.99</text>
<rect x="1296.6" y="1200.6" width="700.4" height="700.4" fill="#fff"/>
<g clip-path="url(#ci)">
<path d="M1706.5 1540.7 1390 1804.9 1975.7 1242.3 1556.7 1688.2 1486.7 1729.5 1908.1 1245.7 1947.5 1257.2 1621.2 1591.1 1898.2 1356.9 1615.1 1513.6 1506.7 1628.5 1928.8 1286.3 1535.9 1656.5 1787.2 1365.5 1655.3 1600.3 1613.3 1536.5 1426.6 1760.3 1579.1 1628.4 1909.2 1370.1 1643.1 1481 1601.4 1567 1698 1457.4 1581.7 1594.6 1465.2 1725.5 1337.5 1809.9 1428.8 1733.2 1324.9 1866.6 1401.4 1775.5 1568.8 1597.1 1436.8 1777.6 1572 1647.5 1744.3 1291 1418.1 1750.4 1354.3 1789.4 1777.9 1313.3 1711.8 1485.2 1667.9 1600.3 1322.5 1867.4 1413 1735.4 1558.2 1669.8 1817.1 1414.4 1688.4 1531.2 1564.8 1702.8 1528.5 1688.9 1446.1 1734.1 1771.8 1377.4 1857.4 1414.9 1368.3 1825.3 1809.6 1373.9 1828.7 1318.9 1981 1236.9 1653 1461.4 1432.2 1742.8 1676.6 1512.2 1724.8 1558.4 1646.1 1556.2 1537.4 1624.6 1726 1408.4 1602.5 1643 1475.6 1720.7 1872.9 1386 1635.9 1550.7 1507.3 1700.1 1582.8 1601.7 1858 1311.5 1559.2 1642.2 1644.7 1480.1 1510.6 1707.6 1648.6 1543.7 1452.1 1708 1898.1 1251.8 1566.2 1637 1521 1793.2 1584.2 1611 1588 1635 1398.5 1755.3 1739.9 1465.3 1592 1585.2 1415.8 1666.5 1698.5 1505.2 1475.6 1741.8 1817 1453.6 1463.7 1702.5 1682.9 1576.1 1561.1 1565.8 1521.8 1714 1981.1 1224.1 1770.5 1472.1 1405.5 1839.7 1826.3 1493.1 1799.3 1362.7 1584.3 1636.2 1569 1631.7 1540.3 1610.4 1405.1 1781.2 1505.2 1727.4 1715.1 1581.3 1516.9 1592.5 1772.9 1464.7 1655.6 1555.5 1601 1562.9 1456.5 1764.1 1415.8 1857.4 1604.9 1638.5 1826.9 1236 1837.5 1341.4 1412.5 1746.9 1680.2 1548.3 1984.7 1448.4 1724.9 1470.8 1896.2 1322.4 1528.3 1610.8 1839 1293 1648 1533.2 1537.8 1586.3 1692 1553.8 1422.3 1775.1 1907.2 1269.6 1659.7 1545.5 1547.1 1459.2 1748.4 1485.3 1773.2 1337.5 1712.7 1420.5 1675.6 1483 1835.6 1552 1446.6 1737.6 1760.2 1291 1335.7 1871.2 1640.7 1556.6 1341 1851 1523.9 1641.4 1611.9 1597.5 1744.8 1408.3 1478.1 1715.4 1627.5 1599.5 1810.5 1373.4 1804 1436 1445.6 1669.2 1816.9 1299.3 1606.4 1490.3 1310.5 1870.5 1768.3 1439.6 1591.2 1645.6 1473.5 1787.6 1536.5 1625.8 1760.2 1495 1411.2 1783.1 1430.7 1718.6 1659.8 1557.5 1952.4 1255.1 1403 1806.4 1712.4 1516.3 1818.9 1296.5 1433.1 1729.8 1847.4 1243.1 1413.3 1787.7 1394.2 1802.9 1869.8 1366.3 1468.5 1729.4 1608.5 1621.8 1438.1 1842.5 1675.9 1492.9 1374.6 1817.5 1920.4 1364.1 1664.2 1439.1 1968.1 1255 1520.9 1628.2 1532 1662.3 1426.6 1746.3 1877.4 1324.2 1769.8 1383.5 1700.9 1542.4 1512.9 1687.6 1478 1751.2 1944.6 1277 1863.4 1297.3 1685.2 1501.2 1587.2 1771.7 1389.3 1795.5 1609.9 1571.2 1558.1 1604.5 1648.7 1466.1 1730.3 1455 1489 1621.2 1515.5 1695.2 1625.4 1477.8 1736.2 1369.1 1522.2 1642.1 1410.8 1771.5 1880.2 1325.4 1843.1 1410.8 1889.5 1312.2 1576.8 1627 1958.6 1311.5 1929.7 1206.2 1533.5 1652.1 1732.6 1223.9 1574.7 1598.6 1897.3 1196.9 1376.1 1762.4 1891.5 1380.4 1650.1 1572.4 1510.8 1726.4 1757.8 1450 1480 1761.5 1983.8 1254.6 1546 1663 1812.4 1429.8 1487.5 1745.6 1858.8 1347.8 1582.4 1629.9 1366.4 1755 1511.7 1755.9 1595.6 1516.4 1647.9 1601.8 1878.9 1296.6 1557.5 1626.3 1345.8 1837.7 1459 1724.3 1699.3 1605.3 1586.3 1525.7 1761.1 1355.2 1505.5 1680.4 1723.8 1206.2 1380.6 1793.7 1436.7 1762.4 1681.9 1483.9 1838.5 1356.1 1694 1576.1 1854.1 1296.7 1676.7 1500.2 1546.2 1687.9 1806.1 1386.9 1649.1 1500.9 1525.1 1794.1 1709.9 1536 1871 1416.7 1748.6 1562.1 1373.3 1832.7 1414.5 1788.2 1840.3 1461.4" fill="none" stroke="none" marker-start="url(#kr)" marker-mid="url(#kr)" marker-end="url(#kr)"/>
<path d="M1655.3 1642.2 1736.3 1485.7 1587.5 1603.6 1672.4 1473.4 1498.7 1690.4 1349.1 1848 1772.2 1453.7 1644 1641.3 1503.5 1750.4 1493.5 1723.2 1819.3 1426 1566.7 1636.8 1672.3 1554.1 1548.1 1641.8 1864.3 1295.7 1841.2 1326.4 1835.6 1511.8 1547.1 1586.3 1590.6 1644.8 1750 1379.8 1399.9 1799.1 1348.3 1878.8 1488.4 1737.1 1787.3 1330.6 1900.9 1349.7 1452.1 1638.5 1367.2 1848.6 1431.5 1764.1 1724.8 1356.2 1846.8 1447.5 1738.1 1498.3 1442.8 1684.2 1452.6 1761.3 1461.1 1727.2 1567.6 1585.3 1523.8 1821.1 1814.2 1427.9 1631.9 1604 1741.5 1333.8 1327.8 1877.1 1522.6 1643.5 1788.7 1483.8 1680.2 1538.9 1922.8 1267.8 1364.5 1779.2 1667.6 1555.3 1852.4 1300.3 1528.9 1627.2 1395.4 1778.7 1536.6 1665.9 1571.7 1668.8 1722 1545.3 1341.7 1888.4 1883.6 1373.2 1900.2 1319.1 1900.5 1220.5 1819.8 1291.9 1809.7 1329.8 1703.5 1512.2 1666.1 1197 1397.1 1815.6 1442 1755.2 1770 1356.8 1382.4 1795.2 1612.8 1664.7 1910.2 1355.2 1385.8 1844.2 1847.3 1304.2 1983.8 1365.5 1500.4 1755.9 1531.2 1698 1956.3 1180.8 1876.4 1348.9 1690.2 1497.2 1907.5 1216.8 1379.4 1737.3 1666.6 1535.4 1456.3 1799.3 1407.4 1848.1 1550.7 1657.7 1909.2 1308.1 1874.5 1214.5 1723.8 1393.4 1917.3 1219.2 1898.6 1265.1 1787.3 1373.1 1426.4 1770.9 1698.8 1518 1372 1786.4 1990.3 1223 1702.9 1492.5 1397.7 1844.4 1640.3 1620.8 1667.9 1484.4 1734.2 1481.8 1389 1805.4 1910.6 1322 1543.8 1623.3 1781.7 1413 1600.2 1560.8 1752.7 1321.7 1644.9 1489.8 1826.3 1493.1 1645.8 1484.4 1665.5 1537 1593.2 1602.9 1521.5 1666.2 1444 1729 1902.2 1280.8 1741.6 1438.4 1441.6 1723.9 1823.7 1262.5 1344.5 1878.2 1374.9 1837.3 1633.1 1566.9 1733.8 1445.4 1927.9 1378.5 1582.3 1646.1 1625.4 1508 1611.7 1562.4 1444 1783.9 1644.5 1572.3 1605.3 1570.4 1350.6 1844.5 1859.1 1213.9 1949.8 1334.4 1950.3 1320 1855.2 1488.5 1476.9 1704.6 1685.4 1503.9 1312.4 1859.3 1767.8 1338.7 1819.8 1361.5 1717.4 1494.6 1817.1 1265.2 1359.7 1865.5 1674.7 1549 1582.7 1611.9 1840.8 1304.3 1408.1 1815.8 1516.9 1563 1993.7 1339 1639.2 1571.2 1511.7 1736.3 1947 1308.3 1643.7 1621.7 1536.2 1651.4 1572.1 1610.1 1611.5 1593.9 1449 1734.2 1662 1504.9 1501.3 1664.9 1405.1 1777.3 1770.7 1398.2 1382.2 1727 1740.6 1372 1713.6 1528.3 1799.1 1366.8 1417.6 1787.1 1578.2 1679.1 1794.4 1466.8 1536.5 1682.7 1878.4 1350.5 1943.7 1325.4 1780.9 1432.9 1626.1 1617.2 1461.4 1726.2 1869.2 1288.2 1720.5 1440.8 1438 1756.4 1872.3 1359.5 1794.7 1505.8 1458 1680.1 1688.3 1595.1 1420.2 1773 1545.3 1700.9 1659 1533.5 1653.5 1544.7 1510.8 1789.4 1681.8 1541.9 1711.8 1549.3 1380.3 1785.5 1602.6 1533.2 1440.5 1759.8 1495.7 1662.8 1644.9 1608.7 1856.1 1415.3 1817 1326.4 1522.7 1634.4 1523 1668.9 1521.8 1644.2 1625 1562.3 1506.7 1742.9 1683.8 1533.5 1809.6 1258 1395.7 1804.7 1588.1 1669.2 1898.1 1310.2 1572.3 1645 1777.2 1455.8 1872 1413 1395 1815.6 1329.1 1872.3 1808.2 1359.4 1676.4 1508.2 1520.3 1654.2 1596.2 1539.7 1366.4 1732.6 1739.2 1506.4 1415.8 1676.7 1562.9 1632.5 1581.4 1591.8 1481.7 1706 1593.4 1626.3 1725.8 1500.8 1711.1 1467.4 1916.4 1329.1 1491.5 1673.2 1793.7 1394.5 1912 1252.5 1447.1 1761 1601.2 1626.2 1594.5 1607.4 1803.5 1392.8 1774.6 1366.1 1631.5 1523.8 1838.3 1317.5 1891.5 1550 1439.1 1820.2 1816.9 1359.9 1677.3 1534.5 1603.7 1610.8 1729.3 1537.6 1526.4 1655.4 1438.8 1736 1823.5 1404.1 1686.6 1580.7 1614.8 1567.3 1505.6 1729 1668 1579.5 1483.9 1721.4 1747.3 1435.5 1646.9 1604.8 1587.2 1790.4 1868.2 1256.9 1714.7 1465 1376.6 1887.3 1763.3 1453.8 1663.8 1192.8 1356.4 1850.4 1535 1673.2 1562 1691.6 1699.3 1682.3 1851.5 1377 1621 1588.2 1658.2 1517.4 1559.1 1698.5 1498 1694.5 1450.9 1738.8 1928.8 1285.4 1659 1591 1423.7 1767.4 1749 1282.6 1610.2 1538.5 1942.8 1378.5 1879.6 1406.6 1652.2 1546.2 1705.2 1409.3 1381.7 1804.3 1961.4 1204.4 1453.6 1783.8 1438.7 1783.5 1394.8 1802.1 1415.8 1846.3 1344.3 1862.8 1544.7 1649.2 1340.3 1810.9 1828.3 1423.3 1403.9 1768.2 1605.4 1596.1 1519.8 1682.3 1811.6 1424.2 1698.7 1441.9 1779.7 1328.2 1479.9 1704 1790.4 1373.1 1439.6 1768.6 1662.9 1502.1 1588.3 1603.7 1342.3 1888.6 1786.9 1395.7 1574.8 1648.5 1759.4 1373.3 1793.5 1336.9 1519.2 1796.9 1431.4 1772.6 1633.5 1540.7 1498.5 1688.4 1977.5 1239.9 1684.2 1545.7 1481.9 1693.8 1826.5 1370 1897.6 1292.1 1711.5 1493.5 1928.3 1303.2 1907.2 1201.1 1729.9 1417.4 1934.6 1346 1597 1615.7 1627.2 1591.3 1380.2 1833.7 1925.3 1240.9 1714.5 1558.4 1330.1 1830.4 1682.9 1443.7 1465.8 1721.6 1563.8 1625.8 1642.9 1557 1956.7 1245.3" fill="none" stroke="none" marker-start="url(#ko)" marker-mid="url(#ko)" marker-end="url(#ko)"/>
<path d="M1676.7 1538.3 1901.3 1307.1 1432.2 1772.4 1653 1509.3 1402.7 1823.9 1370.1 1832.8 1455.4 1778.5 1426.6 1778.7 1478.9 1738.8 1461.8 1733.8 1768.3 1408.6 1894.2 1273.8 1829.9 1438.1 1901.2 1347.8 1570.8 1634.5 1415.4 1754.4 1341.1 1852.1 1597.4 1654.3 1393.2 1832.2 1390.6 1760.5 1682.2 1468.5 1518 1668.2 1772 1344.9 1403.5 1844.4 1475.6 1741.7 1356.2 1874.5 1596.7 1587.6 1895.9 1332.5 1424.7 1800.9 1863.9 1284 1624.1 1571.2 1646.2 1615.2 1971.9 1183.6 1454.8 1746.4 1443.8 1776 1810.5 1370.1 1708.2 1486.4 1445.3 1732.9 1692.5 1502.4 1940 1261.5 1643.6 1617 1745.1 1500.1 1874.1 1276 1435.2 1750.2 1707.7 1510 1452.1 1657.7 1711.4 1514.4 1774.6 1434.8 1415.1 1786.3 1395.1 1770.4 1873.9 1361.7 1898.9 1363.9 1409.1 1769.9 1660.6 1502.6 1650 1532.5 1365.7 1838.7 1853.3 1390.6 1582.5 1573.3 1940.2 1341.1 1783.8 1446.9 1584.8 1572.8 1511 1699.1 1734.8 1460.2 1560.1 1594.1 1931.9 1300.9 1519.2 1823 1767.8 1423.3 1661.9 1570 1353.8 1849.2 1928.8 1293.8 1454.2 1725.1 1859.6 1385.4 1819.7 1411.2 1745 1449.4 1444.9 1757 1670.3 1505.2 1719.2 1502.4 1568.8 1595.6 1691 1534.8 1361 1820.1 1676.3 1357.1 1600.4 1578 1891.5 1577.9 1536.2 1644.6 1734.7 1427.5 1673.3 1516.6 1512.7 1689 1461 1694.4 1702 1429 1647.5 1537.4 1857 1389.9 1597.8 1613.8 1798 1395.2 1720.1 1431.3 1599.9 1590.1 1405.1 1798.5 1787.4 1468 1749.5 1384.3 1900.5 1223.9 1574.9 1637.6 1584 1625.7 1772 1477.4 1954.6 1376.7 1801.6 1388.4 1906.4 1269.7 1760.5 1462.9 1423 1762.4 1364.4 1847.4 1492.8 1679.8 1509.7 1696.7 1585.9 1662.5 1591.1 1593.9 1729.2 1487.3 1650.2 1569.6 1873.1 1238.3 1490.5 1731.3 1878.9 1382.1 1503.1 1710.5 1505.5 1685.8 1477.8 1668.9 1774.6 1449.8 1551.1 1637.1 1738.7 1371.9 1380.4 1803.4 1473.3 1676.9 1824 1352.5 1636.7 1574.7 1602.9 1568.1 1497.5 1723 1465.6 1756 1922.8 1246.5 1535.2 1733.9 1655.3 1638.5 1511.7 1774.5 1672.5 1491.1 1883.3 1392.4 1524.9 1638 1427.9 1753.2 1956.1 1230.8 1657.4 1617.9 1708 1452.3 1627.4 1612.9 1945.1 1266.2 1893.8 1289 1451.9 1757.8 1524.3 1680.5 1723.1 1481.7 1489 1302.5 1667.3 1544.7 1618.2 1565.6 1709.8 1512.4 1390 1798.7 1355.4 1837.9 1618.6 1642.9 1434.3 1736.1 1742.8 1448.9 1797.9 1379.1 1429.6 1799.2 1944.6 1340.3 1675.2 1460.7 1456.6 1752.3 1810.8 1338.6 1460.9 1759.7 1713.4 1517.2 1413.5 1769.1 1935 1331.3 1516.4 1740.1 1690.3 1529.5 1589.3 1611.8 1381.4 1812.7 1524.3 1700.5 1523.8 1839.7 1429.2 1735 1686.3 1528.5 1699.7 1516.2 1703 1521.2 1697.5 1551.5 1503.4 1664.8 1944.8 1365 1466 1731.8 1688.4 1600.6 1933.3 1201.4 1737.4 1415.6 1644.6 1508.2 1699.3 1681.4 1378.7 1846.5 1571.7 1658.2 1563.5 1607 1872.9 1258.4 1444.6 1812.7 1676.2 1514.7 1766.8 1427.3 1739.7 1531.7 1676.6 1560.6 1774.6 1398.2 1691.6 1465.8 1448.3 1721.9 1865.1 1390.2 1910.2 1338.3 1811.8 1346.9 1795.4 1443.2 1645.1 1562.7 1707.3 1450.3 1471.9 1712.7 1499.1 1693.6 1970.2 1221.8 1444.6 1751.1 1700.2 1458.9 1484.4 1733 1895.2 1354 1325.8 1898.1 1995.5 1201.7 1619.5 1515.2 1682.9 1480.6 1541.7 1675.2 1447.6 1769.7 1697.1 1512.4 1399.4 1806.5 1569.5 1665.5 1658.7 1617.3 1429.4 1798.4 1450.3 1721.4 1556.4 1591.4 1845 1442.8 1401.5 1759.6 1584.5 1584.7 1483.7 1714 1638 1540 1328.4 1871.8 1416 1766.1 1385.1 1814 1336.5 1850.6 1451.8 1697.3 1722 1419.8 1434.3 1754.3 1691.2 1505.1 1482.5 1686.4 1966.3 1258.2 1831.6 1389.9 1616.1 1605.4 1516.9 1610.6 1552.9 1619.8 1965 1299.3 1587.6 1582 1434.8 1738 1795.8 1395.8 1408.9 1781.4 1344.1 1849.7 1404.7 1779.6 1419 1765.5 1544.5 1668.2 1925.7 1299.7 1774.2 1476.4 1902.7 1248.8 1919 1280.7 1449.7 1736.2 1894.4 1364.7 1963.1 1257 1559.7 1685.8 1946 1313.3 1789.7 1340.1 1928.6 1222.6 1410.7 1800.7 1662.1 1532.2 1516.2 1705.8 1589.8 1617.8 1900.7 1403 1763.6 1433.4 1728.5 1518.3 1658.9 1543.1 1865.4 1292.9 1513.3 1640.2 1611.7 1567.8 1665.1 1502.2 1534.2 1658.4 1407.9 1796.2 1983.8 1284.4 1459 1773.2 1771.2 1480.7 1553.4 1638.1 1473.4 1739.4 1419.7 1791.8 1437.9 1771.8 1604.7 1597.9 1638.5 1565.4 1413.1 1790.4 1779.9 1474.5 1819.8 1218.3 1646.3 1504.1 1797.4 1483.7 1418.2 1756.7 1596 1572.1 1490.2 1679.5 1433.6 1784.5 1733.4 1429.4 1893.4 1306.3 1778.2 1437.3 1621.2 1581.8 1576.6 1612 1389.5 1796.7 1624.4 1596 1875.2 1361.6 1810.1 1355.9 1700 1477.5 1686.9 1459.3 1512.2 1695 1489 1729.1 1753.6 1470.3 1660.2 1560.4 1425.7 1755.2 1777 1401.7 1704.6 1454.7 1728.6 1549.7 1593.1 1537.8 1653.3 1513.2 1772.4 1433 1898 1238.2 1518.7 1669.2 1572.8 1565.2 1776 1346.3 1637.8 1496.5 1436.5 1742.2 1438.1 1836.9 1722.5 1492.7 1667.6 1566.2 1400.3 1800.1 1581.1 1656.9 1935.3 1355.5 1611.7 1587.1 1564.1 1636.8 1754.8 1438.8 1912.2 1327.2 1350.6 1858.6 1717.8 1539.4 1798.5 1295.6 1751.8 1336.6 1731.5 1481.8 1393.9 1768.3 1480.6 1759.8 1487.9 1700 1743.4 1282.6 1383.3 1801.3 1624.6 1551.2 1548.8 1636.8 1808.1 1383.2 1444.6 1752.8 1452.9 1729.6 1935.6 1287.7 1720.6 1410 1765.5 1371 1687.4 1483.5 1546.9 1603.4 1469.8 1754.4 1654.4 1549 1662.1 1531.7 1395.9 1831.6 1835.1 1445.3 1642.6 1580.1 1813.1 1355.4 1394.6 1842.6 1903.9 1259.9 1721.5 1490.5 1531.8 1655.1 1668 1611.1 1355.3 1842.8 1769 1447.7 1562.3 1604.7 1787.5 1358.5 1335.4 1862.8 1502.2 1655.1 1417.3 1819 1556.5 1621.1 1505.6 1663.9 1330.3 1867.4 1716.6 1459.5 1499.5 1656.7 1875.2 1327.1 1734.1 1521.1 1460.9 1713.5 1746.5 1506.4 1553.4 1684.6 1866.9 1308.4 1449.7 1714.3 1643.1 1488.2 1619.2 1547.1 1369.4 1801.1 1962.2 1254.9 1449.6 1735.2 1540.7 1593.3 1667.2 1493.8 1893.6 1301.2 1694.6 1541.3 1439.7 1782.4 1906.8 1351.3 1388.4 1811.2 1688.6 1450 1645.7 1540.9 1673.8 1471.6 1538.6 1708.8 1992.5 1287.4 1890.6 1296.8 1901 1383.9 1459.9 1739.8 1902.2 1298.9 1749.1 1479.8 1529.2 1689.8 1684.7 1564.4 1421.5 1745.6 1443.8 1744.2 1648.6 1493.7 1563.9 1633.3 1563.1 1644.8 1330.6 1874.1 1560 1628.6 1527.8 1666.8 1462.6 1745.7 1730.5 1454.9 1565.4 1626.4 1972.3 1183.6 1675 1504.5 1587 1612.4 1615.9 1579.3 1507.2 1668 1896.4 1279.7 1463 1696.7 1686.2 1519.3 1517.7 1654.7 1423 1756.3 1765.8 1427.8 1487.4 1701 1652.3 1568.6 1709.8 1481.7 1937.2 1262 1411.9 1805.6 1666.8 1537.4 1764.4 1491.3 1782.7 1456.8 1471.1 1756.6 1911.6 1308.4" fill="none" stroke="none" marker-start="url(#kg)" marker-mid="url(#kg)" marker-end="url(#kg)"/>
<path d="M1602.7 1617.3 1692.2 1551 1542.1 1616.3 1631.7 1570 1540 1637.7 1505.7 1678.5 1719.9 1459.3 1464 1732.9 1569.9 1598.5 1516.3 1676.7 1414.1 1802.3 1624.9 1542.1 1523.8 1662.9 1565.9 1600.7 1358.8 1854.5 1869.9 1385.3 1542.7 1663.4 1573.1 1613.8 1695.2 1466.5 1962.4 1247.4 1930.7 1224.8 1729.4 1534 1679.6 1477.5 1589.3 1559.7 1485.2 1687.1 1659.3 1535.7 1673.5 1468.3 1870.7 1308.6 1817.2 1300 1846 1381.8 1531.7 1631.5 1837.6 1346 1707.8 1486.7 1402.9 1812.9 1466.9 1729.2 1404.3 1777.1 1732.8 1415.3 1561.7 1644.9 1395.8 1815.1 1432.8 1747.7 1667.3 1531 1463.8 1721.4 1369.9 1817 1629.2 1595.7 1594.5 1597.9 1687.4 1529.3 1834.3 1359.3 1619.6 1628.7 1955.6 1238.1 1440 1757.4 1744.9 1522 1685.1 1462.8 1460.7 1725.7 1544.2 1648.1 1727.2 1486.6 1603.6 1595.5 1570.4 1570.9 1507.4 1693.7 1474.6 1745.7 1819.8 1306.8 1653.1 1554.1 1653.7 1549.4 1866.4 1392 1679.5 1486.4 1883.6 1393.3 1402.2 1779.2 1427.1 1773.8 1623.7 1534.2 1434.5 1741.2 1577.7 1596.5 1876.2 1355 1763.9 1462.9 1789.7 1400.7 1564.1 1609.9 1766.6 1452.6 1733.3 1443.5 1622.3 1621 1680.7 1536.4 1416.1 1765.8 1403.1 1789.4 1734.4 1467.8 1900.9 1277 1623.3 1613.1 1649.9 1534.1 1945 1228.8 1892.5 1341.4 1662.1 1523.7 1352.4 1860.4 1859.1 1337.1 1443.7 1763.8 1469.2 1699.3 1788.5 1366.1 1399.1 1769.9 1422.3 1806.8 1591.7 1578.8 1408.9 1765.5 1340.2 1855.1 1424.6 1770.4 1625.2 1550 1734.3 1414.9 1554.6 1671.5 1584.2 1605.1 1575.8 1631.1 1595.8 1612.8 1427.4 1756.4 1964.9 1271.6 1641.8 1546 1495.4 1721.7 1872.9 1390.6 1801.2 1394.7 1502.2 1655.1 1753.1 1479.2 1697.2 1506.6 1377.6 1866.8 1601.3 1611.3 1796 1401.6 1365.8 1854.5 1591.4 1565.9 1910.9 1270.5 1387.1 1835.4 1739.7 1287.2 1848.7 1472.6 1379.4 1821.5 1741 1480.7 1773.4 1384.1 1448.7 1730.7 1705.8 1517.9 1382.8 1824.6 1508.1 1730.7 1790.7 1356.6 1485.2 1670.1 1659.8 1575.1 1712.3 1505.5 1774.3 1423.4 1579.8 1625.6 1774.2 1487.5 1848.2 1341.8 1352.8 1846.3 1361 1833.6 1531.8 1701.5 1576 1648.2 1353.9 1860.8 1893.9 1350.2 1621.4 1557.4 1528.8 1638.2 1652.8 1596.6 1730.8 1451.4 1404.3 1802 1339.3 1850.5 1668.2 1541.9 1458 1731.8 1605.5 1594.4 1399.2 1776 1516.4 1673.6 1680.8 1490.7 1552.3 1626.6 1444 1711.4 1677.9 1500.6 1387 1795.1 1385.8 1820.8 1493 1681.3 1732.7 1423.6 1575.9 1603.6 1367.5 1830.8 1424.4 1767 1426.1 1777.1 1458.5 1755.5 1850.6 1307.3 1458.4 1707.3 1435.2 1794.8 1467.2 1741.5 1936.8 1317 1512.3 1695.9 1396.4 1820.5 1478.3 1741.9 1429.8 1777.9 1923.3 1228.8 1520.6 1708.2 1478.1 1695.3 1928.8 1198.3 1501.5 1726 1815.1 1392.7 1908.5 1261 1663.3 1564.4 1415.7 1786.8 1638.2 1548.1 1493.5 1723.7 1639.6 1544.8 1585.8 1603.4 1711.1 1484.4 1536.4 1630.8 1480.5 1737.6 1668.7 1496 1653.9 1559.4 1612.5 1586 1439.5 1772.3 1915.1 1332.6 1759.7 1474.7 1433.8 1761.4 1877.3 1298.2 1526.6 1710.2 1715.4 1447.4 1886.3 1328.8 1857 1332.7 1714.8 1493.6 1567.6 1689.7 1871.1 1331.5 1773.7 1433.6 1779.6 1420.5 1742.3 1462.8 1684.4 1511.4 1342.1 1849.6 1481.9 1712.3 1344 1879.7 1456.2 1741.5 1550.7 1668.2 1361.2 1824.2 1910.1 1274.8 1847.4 1321.1 1705.6 1464.4 1377.9 1836.4 1497.8 1703.8 1600.8 1626.5 1714.3 1489.6 1833.5 1321.2 1647.8 1521.7 1516.9 1666.2 1995.1 1217.4 1877.3 1295.2 1811.3 1375.5 1610.2 1639.6 1362.3 1834.4 1884.2 1294.5 1475.3 1716.7 1950.4 1259.7 1438.1 1850 1667.6 1512.1 1446.7 1745 1791.7 1430.7 1788.9 1430.8 1901.7 1364.4 1513.7 1706.2 1569.7 1686.7 1422.1 1791.8 1522.4 1663.4 1420.1 1770.9 1464.1 1706.1 1479.3 1721.6 1800.7 1396.3 1861.4 1329.1 1713.7 1489.7 1657.7 1566.2 1713.4 1517.5 1738.7 1444.3 1908.3 1329.2 1762.4 1411.9 1587.8 1599.4 1590.5 1567.7 1844.8 1393 1532.8 1619.3 1695.2 1558.9 1835.6 1466.1 1832.6 1335.1 1731.7 1464.3 1463.7 1770.4 1413.2 1766.6 1438 1737.2 1860.8 1259.3 1401.5 1800.8 1569.6 1583.6 1546.8 1656.2 1855.2 1520.1 1836 1362.2 1346.3 1852.9 1515.3 1694.8 1668 1507.7 1882.3 1278.3 1619 1617.3 1414.6 1786 1665.8 1558.9 1844.7 1340.4 1653.7 1558.4 1657 1501.8 1758.7 1481.6 1662.4 1534.8 1951.5 1260.9 1818.2 1429.1 1514.7 1685.2 1510.8 1654.1 1800.8 1338.5 1576.7 1599.7 1876.1 1331.4 1384.9 1824.4 1817.3 1384.5 1640.5 1562.8 1389.2 1829.8 1468.4 1741.4 1796.1 1435.1 1583.5 1592.4 1679.5 1513.4 1722.8 1442.8 1678.2 1484.8 1758.3 1466.5 1668 1521.6 1837.8 1349.2 1584.3 1636.8 1719.8 1478.5 1628.6 1575.8 1765.4 1432.1 1584.1 1599.3 1377.6 1826.8 1525.3 1669.7 1471.1 1730.7 1645.7 1568.5 1772.9 1361.8 1628.9 1587.7 1326.8 1879.2 1617.2 1627.1 1849.3 1342.3 1444.7 1753.7 1624.5 1575.1 1761.4 1399.5 1726.4 1446 1934.8 1286.3 1737.4 1434.7 1356.9 1868.2 1638.6 1554.2 1893.4 1288.8 1805.7 1404.7 1415.5 1752.9 1389.4 1796.7 1417.7 1782.7 1621.8 1546.4 1783.8 1373.6 1730.1 1464.1 1788.5 1373 1778.9 1481.7 1791.4 1418.2 1656 1594.2 1588.2 1609 1434.7 1738.1 1370.7 1800.8 1495.7 1703.8 1392.5 1801.3 1967.6 1218.8 1467.2 1711.6 1582.1 1575.8 1378.8 1830.5 1378.9 1805.2 1442.6 1772.1 1932.4 1264.1 1847 1365.9 1670.3 1541 1503.4 1654 1496.9 1685 1437.2 1814.6 1672 1519.8 1485.1 1721.6 1808.1 1351.1 1900.5 1334.3 1452.8 1764.3 1759 1463.8 1575.1 1670.8 1693.8 1497.6 1542.6 1663.1 1323.3 1877 1495.3 1670.4 1618.2 1598.7 1460.2 1734.2 1421.7 1780.3 1586.2 1624.4 1359.8 1832.1 1413.4 1777.9 1523.1 1669.2 1424.9 1793.5 1447.6 1719.1 1515.8 1690.4 1870.1 1351.8 1399.8 1792.4 1950.6 1248.7 1364 1853.9 1331 1865.5 1512.2 1689.1 1952.1 1274.9 1714.4 1463 1515.5 1687.3 1551.3 1674.6 1764.8 1457.5 1914.5 1337.3 1414.3 1789.5 1531.6 1684.7 1449 1750 1347.6 1875.7 1614.7 1535.2 1636.7 1553.3 1359.7 1850.6 1424.8 1792 1908 1231.9 1778.2 1366 1589 1631.4 1714.3 1489.6 1503.7 1669.1 1374.1 1805.5 1403.3 1790 1560.8 1625.2 1768.7 1425.2 1596.2 1605.5 1416.4 1759.1 1921.4 1288.8 1477.1 1695.6 1310.5 1858.4 1805.7 1360.7 1611 1543.5 1826.3 1382.5 1389.4 1842.7 1876.5 1259.2 1440.7 1744.9 1978.2 1188.9 1473.7 1740.8 1481.8 1707.4 1799.1 1470.5 1490.4 1725.5 1359.3 1839.8 1692.7 1490.5 1969.1 1277.7 1348.4 1840.3 1729.9 1470.2 1478.8 1744.6 1720.2 1474.7 1593.3 1636.6 1523.8 1846.3 1873.8 1407.4 1744.5 1491.7 1342.4 1863.2 1426 1785.6 1416.6 1787.1 1387.5 1776.9 1823.8 1431.7 1404.6 1821 1580.9 1609.3 1386.4 1817.5 1419.9 1772.8 1370.9 1822.1 1416.8 1768.5 1826.2 1418.3 1872.9 1265.8 1660.8 1512.8 1480.2 1680.1 1510.9 1666.2 1631.7 1562.5 1757.9 1463.9 1668.7 1528.6 1498.9 1704.9 1632.2 1574 1654.3 1562.6 1953.9 1250.7 1606.4 1469.8 1566.2 1616.8 1607 1602.1 1450.7 1724.3 1571.5 1653.4 1597.5 1596.9 1914 1333.7 1810.6 1349.5 1524.1 1668.3 1432.7 1793 1428.6 1767.5 1526.5 1656.2 1572.5 1591.8 1566 1623.8 1841.6 1344.6 1557.1 1652.1 1838.2 1402.8 1714.9 1530.1 1623.2 1603.5 1440.6 1764.2 1750.7 1439.2 1402.1 1770.2 1468.2 1755.8 1400.1 1770.9 2009.6 1235.1 1494.4 1735.6 1802.4 1427 1883.4 1325.1 1854 1299.3 1545.3 1678.6 1807.3 1428.2 1675.5 1457.8 1832.4 1341.5 1449.7 1743.9 1548.3 1685.2 1478.6 1708.7 1735.4 1489.4 1948.2 1335 1855.4 1352.8 1494.8 1714.1 1738.3 1471.6 1763.9 1421.7 1590.3 1620.7 1719.7 1481.3 1963 1244.7 1782.3 1427.4 1456.1 1697.5 1879.4 1378.4 1409.3 1805.1 1635.3 1541.6 1374.5 1847.6 1732.2 1322.6 1497.4 1649.5 1612.3 1637.6 1956.7 1267.7 1512.2 1663.3 1553.9 1671 1518.5 1695 1748.1 1356.2 1696.5 1518 1528.5 1656.1 1926.9 1211.8 1754.1 1496.4 1526.6 1697.7 1907.1 1314.9 1617.9 1572.9 1402.7 1805.7 1974.8 1254.1 1500.1 1726.1 1465.5 1747 1432.2 1760.5 1517.5 1673.1 1572.5 1664.1 1797.4 1419.2 1406.5 1767.9 1539.3 1617.3 1415.8 1715.5 1547.7 1642.6 1525.4 1657.8 1677.5 1542.2 1460.2 1735.1 1540.3 1656.7 1904.8 1300.3 1934.2 1296.6 1645.8 1545.1 1526.4 1683 1488.7 1715.4 1677.6 1512 1560 1630.5 1721.9 1509.8 1701 1501.1 1684.8 1534.3 1549.8 1691.2 1596.8 1569.4 1379.2 1816.3 1337.5 1851.2 1475.3 1715 1369.6 1822.4 1795.2 1364.8 1714.7 1453.9 1554.6 1589.1 1372.5 1826.6 1399.7 1768.8 1819.3 1363.5 1584.2 1606.1 1532 1678.8 1531 1705.7 1413.6 1781.4 1819 1412.5 1569.8 1621.9 1619.4 1581.9 1734.1 1514.3 1364.5 1836.9 1706.1 1475.3 1703.7 1525.2 1819.7 1465.4 1404.2 1780.3 1554.4 1590.2 1815.4 1369.8 1810.3 1364.4 1667.8 1471 1497.6 1701.8 1421.3 1776.6 1407.9 1781.1 1853.1 1317.6 1358.9 1870.5 1625.4 1492.2 1376.3 1803.2 1739.5 1489.8 1545 1648.8 1593.8 1609.9 1516.1 1631.2 1792 1440.5 1944.6 1330.1 1615.6 1552.9 1630.3 1593 1641.9 1574.5 1466.9 1694.4 1729.7 1407.5 1497 1656.2 1678.7 1520.8 1470.4 1748.6 1443.6 1746.1 1636.7 1557.7 1442.3 1786.3 1525.6 1646.8 1779.5 1395.2 1364.5 1783.8 1737 1386.2 1846.8 1282.6 1688.1 1536.3 1470.3 1744 1331 1867.3 1586.3 1663.7 1671.6 1510.4 1500.7 1676.3 1740.6 1496.2 1506.6 1675.5 1457.2 1730.6 1808 1406.2 1783.2 1369.1 1484.1 1730.3 1435.7 1765.8 1325.9 1867.7 1824.3 1358.5 1924.3 1267.4 1530.2 1708.9 1956.9 1195.5 1407.8 1768.2 1549 1661.1 1743.4 1492.4 1524.1 1647.2 1601 1566.9 1800.2 1402.5 1817 1333.8 1560 1615.6 1609.4 1564.1 1596.9 1573.7 1404.7 1783.7 1676.3 1314.2 1437.6 1770.8 1378.5 1825.4 1387 1831.1 1487.3 1711.7 1798.8 1340.6 1543 1666.4 1589.1 1613.2 1434.7 1763.7 1744.3 1479.1 1747.6 1454 1993.7 1213.4 1795.1 1401 1726 1534.2 1928.9 1258 1673.3 1509.8 1450.1 1728 1499.9 1690.4 1514.6 1693.4 1647.2 1516.8 1494.8 1708.2 1560.1 1676.6 1588.5 1628.2 1666.5 1563.9 1488.8 1723.5 1654 1576.3 1406.5 1781.5 1590.3 1605.9 1384 1834.4 1633.2 1556 1507.9 1677.7 1352.3 1840.8 1917.4 1302.3 1754.7 1429.9 1414.5 1784.2 1659 1494.5 1655 1556.7 1539 1684.2 1393.7 1801.1 1494.2 1694 1915.5 1252.8 1837.1 1392.6 1384.7 1818.3 1410.1 1801.7 1699.1 1497.2 1374.4 1834.8" fill="none" stroke="none" marker-start="url(#kb)" marker-mid="url(#kb)" marker-end="url(#kb)"/>
<path d="M1296.6 1901L1997 1200.6" stroke="#000" stroke-width="4.3" stroke-dasharray="16 7" fill="none"/>
</g>
<path d="M1436.7 1901v-10M1436.7 1200.6v10M1296.6 1760.9h10M1997 1760.9h-10M1576.8 1901v-10M1576.8 1200.6v10M1296.6 1620.8h10M1997 1620.8h-10M1716.8 1901v-10M1716.8 1200.6v10M1296.6 1480.8h10M1997 1480.8h-10M1856.9 1901v-10M1856.9 1200.6v10M1296.6 1340.7h10M1997 1340.7h-10" stroke="#000" stroke-width="2.3" fill="none"/>
<rect x="1296.6" y="1200.6" width="700.4" height="700.4" fill="none" stroke="#000" stroke-width="2.4"/>
<g font-size="29.17"><text x="1296.6" y="1931.4" text-anchor="middle">0</text><text x="1436.7" y="1931.4" text-anchor="middle">80</text><text x="1576.8" y="1931.4" text-anchor="middle">160</text><text x="1716.8" y="1931.4" text-anchor="middle">240</text><text x="1856.9" y="1931.4" text-anchor="middle">320</text><text x="1286" y="1910.9" text-anchor="end">0</text><text x="1286" y="1770.8" text-anchor="end">80</text><text x="1286" y="1630.7" text-anchor="end">160</text><text x="1286" y="1490.7" text-anchor="end">240</text><text x="1286" y="1350.6" text-anchor="end">320</text></g>
</svg>
</body></html>
